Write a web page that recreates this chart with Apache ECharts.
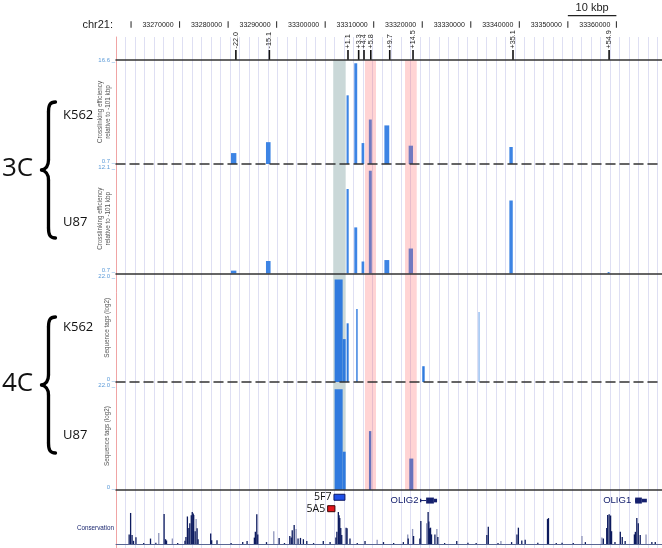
<!DOCTYPE html>
<html><head><meta charset="utf-8">
<script src="https://cdn.jsdelivr.net/npm/echarts@6/dist/echarts.min.js"></script>
<style>html,body{margin:0;padding:0;background:#fff}#c{width:662px;height:548px}</style>
</head><body><div id="c"></div>
<script>
// ---------- DATA (positions in kb relative to the anchor) ----------
const anchorBp = 33303600;
const rulerTicksBp = [33260000,33270000,33280000,33290000,33300000,33310000,33320000,33330000,33340000,33350000,33360000];
const rulerLabels = ['', '33270000','33280000','33290000','33300000','33310000','33320000','33330000','33340000','33350000','33360000'];
const scaleBarBp = [33350000, 33360000];
const scaleBarLabel = '10 kbp';
const distanceLabels = [-22.0, -15.1, 1.1, 3.3, 4.4, 5.8, 9.7, 14.5, 35.1, 54.9];
const fragStart = [-23.0, -15.8, 0.8, 2.4, 3.9, 5.4, 8.6, 13.6, 34.35, 54.6];
const fragEnd   = [-21.9, -14.85, 1.25, 3.0, 4.45, 6.0, 9.6, 14.5, 35.05, 55.0];
const k562_3C = [2.37, 4.04, 11.2, 16.1, 3.9, 7.5, 6.6, 3.5, 3.3, 0.7];
const u87_3C  = [1.0, 2.0, 9.5, 5.5, 1.95, 11.4, 2.1, 3.3, 8.3, 0.85];
const k562_4C = [[-1.65, 0, 20.8], [0, 0.62, 8.7], [0.82, 1.24, 11.9], [2.8, 3.09, 14.8], [16.4, 16.9, 3.2]];
const k562_4C_faint = [[27.96, 28.25, 14.2]];
const u87_4C = [[-1.65, 0, 20.5], [0, 0.62, 7.8], [5.42, 5.9, 12.0], [13.73, 14.56, 6.4]];
const anchorBand = [[-1.94, 0.62]];
const pinkBands = [[4.6, 6.87], [12.85, 15.26]];
const trackRanges = [[0.7, 16.6], [0.7, 12.1], [0, 22], [0, 22]];
const trackTickLabels = [['0.7', '16.6'], ['0.7', '12.1'], ['0', '22.0'], ['0', '22.0']];
const trackNames = ['Crosslinking efficiency\nrelative to -101 kbp', 'Crosslinking efficiency\nrelative to -101 kbp', 'Sequence tags (log2)', 'Sequence tags (log2)'];
const probeNames = ['5F7', '5A5'];
const probeStart = [-1.79, -3.09];
const probeEnd = [0.47, -1.59];
const geneNames = ['OLIG2', 'OLIG1'];
const geneTxStart = [15.94, 60.27];
const geneThickStart = [17.2, 60.27];
const geneThickEnd = [18.8, 61.65];
const geneTxEnd = [19.45, 62.68];
const consDark = [[-44.0,0.30],[-43.7,0.97],[-43.4,0.28],[-43.1,0.1],[-42.6,0.21],[-41.0,0.03],[-39.6,0.17],[-38.5,0.04],[-36.8,0.94],[-36.5,0.15],[-36.3,0.11],[-34.0,0.03],[-32.5,0.1],[-32.3,0.22],[-32.0,0.86],[-31.7,0.5],[-31.5,0.65],[-31.2,0.9],[-31.0,1.0],[-30.8,0.95],[-30.7,0.91],[-30.4,0.4],[-30.0,0.49],[-29.8,0.15],[-27.2,0.33],[-27.0,0.12],[-25.9,0.12],[-23.0,0.03],[-20.6,0.06],[-19.7,0.09],[-18.2,0.2],[-18.0,0.38],[-17.7,0.93],[-17.5,0.3],[-15.7,0.06],[-13.1,0.19],[-12.0,0.03],[-10.9,0.25],[-10.6,0.2],[-10.4,0.43],[-10.0,0.59],[-9.2,0.17],[-8.7,0.19],[-8.1,0.15],[-7.4,0.09],[-6.0,0.03],[-4.0,0.09],[-2.6,0.06],[-1.4,0.2],[-1.2,0.38],[-0.9,1.0],[-0.75,0.9],[-0.6,0.81],[-0.4,0.5],[-0.2,0.28],[0.7,0.51],[0.9,0.49],[1.5,0.17],[3.0,0.03],[4.6,0.09],[8.4,0.06],[10.5,0.03],[12.5,0.06],[13.5,0.17],[14.6,0.25],[15.9,0.17],[16.1,0.72],[17.6,1.0],[17.75,0.7],[17.9,0.49],[18.1,0.51],[18.3,0.3],[19.0,0.3],[19.6,0.22],[21.0,0.03],[23.5,0.09],[25.8,0.04],[27.5,0.03],[29.7,0.28],[30.0,0.54],[32.0,0.03],[34.8,0.06],[35.9,0.3],[36.2,0.51],[36.9,0.11],[37.6,0.13],[40.2,0.04],[42.2,0.78],[42.4,0.81],[44.0,0.03],[45.2,0.04],[47.5,0.03],[50.0,0.06],[53.7,0.17],[54.4,0.5],[54.6,0.91],[54.9,0.93],[55.2,0.89],[55.4,0.4],[56.1,0.06],[57.2,0.38],[57.6,0.22],[58.2,0.09],[60.1,0.3],[60.3,0.38],[60.6,0.81],[60.9,0.65],[61.3,0.28],[63.7,0.06],[64.4,0.06]];
const consLight = [[-37.9,0.34],[-35.1,0.17],[-30.2,0.78],[-14.2,0.40],[-9.6,0.47],[7.1,0.13],[13.4,0.30],[14.4,0.47],[17.3,0.65],[19.4,0.47],[32.6,0.09],[49.3,0.25],[53.4,0.2],[62.5,0.3]];

// ---------- LAYOUT / STYLE ----------
const xMin = -46.7, xMax = 65.8;
const L = 116;
const BLUE = '#3d84e4', LBL = '#5b9ad8', INK = '#222';
const SANS = '"Liberation Sans", Arial, sans-serif';
const toKb = bp => (bp - anchorBp) / 1000;

const gridBoxes = [
  {top: 37, bottom: 0},
  {top: 20, height: 10},
  {top: 30, height: 30},
  {top: 60, height: 104},
  {top: 164, height: 109.5},
  {top: 273.5, height: 108.5},
  {top: 382, height: 108},
  {top: 60, height: 430},
  {top: 490, height: 22},
  {top: 512, height: 32}
];
const grids = gridBoxes.map(g => Object.assign({left: L, right: 0, containLabel: false, outerBoundsMode: 'none'}, g));
const solidLine = {show: true, lineStyle: {color: '#333', width: 1.5}};
const dashLine = {show: true, lineStyle: {color: '#333', width: 1.5, type: [9, 5]}};
const xLines = [null, null, solidLine, dashLine, solidLine, dashLine, solidLine, null, null, {show: true, lineStyle: {color: '#5a6794', width: 1}}];

const xAxes = grids.map((g, i) => {
  if (i === 0) return {gridIndex: 0, type: 'value', min: 0, max: 57.5, interval: 1,
    axisLine: {show: false}, axisTick: {show: false}, axisLabel: {show: false},
    splitLine: {show: true, lineStyle: {color: '#dedff3', width: 1}}};
  return {gridIndex: i, type: 'value', min: xMin, max: xMax, z: 6,
    axisLine: xLines[i] || {show: false}, axisTick: {show: false}, axisLabel: {show: false}, splitLine: {show: false}};
});

const yAxes = [];
const plain = (gi, extra) => Object.assign({gridIndex: gi, type: 'value', min: 0, max: 1, position: 'left',
  axisLine: {show: false}, axisTick: {show: false}, axisLabel: {show: false}, splitLine: {show: false}}, extra || {});
yAxes.push(plain(0, {axisLine: {show: true, lineStyle: {color: '#f0a4a4', width: 1}}, z: 3}));
yAxes.push(plain(1, {name: 'chr21:', nameLocation: 'middle', nameRotate: 0, nameGap: 3, nameMoveOverlap: false,
  nameTextStyle: {fontSize: 11, fontFamily: SANS, color: INK, align: 'right'}}));
yAxes.push(plain(2));
const trackYIndex = [];
for (let t = 0; t < 4; t++) {
  const [mn, mx] = trackRanges[t];
  const labs = trackTickLabels[t];
  const common = {gridIndex: 3 + t, type: 'value', position: 'left', min: mn, max: mx, interval: mx - mn,
    axisLine: {show: false}, axisTick: {show: false}, splitLine: {show: false}};
  trackYIndex.push(yAxes.length);
  yAxes.push(Object.assign({}, common, {
    name: trackNames[t], nameLocation: 'middle', nameRotate: 90, nameGap: t < 2 ? 4 : 5, nameMoveOverlap: false,
    nameTextStyle: {fontSize: 6.3, lineHeight: 8, fontFamily: SANS, color: '#555'},
    axisLabel: {show: true, margin: 1, fontSize: 6, fontFamily: SANS, color: LBL,
      verticalAlign: t === 0 ? 'middle' : 'top',
      formatter: v => Math.abs(v - mx) < 0.01 ? labs[1] + ' _' : ''}
  }));
  yAxes.push(Object.assign({}, common, {
    axisLabel: {show: true, margin: 1, fontSize: 6, fontFamily: SANS, color: LBL, verticalAlign: 'bottom',
      formatter: v => Math.abs(v - mn) < 0.01 ? labs[0] + ' _' : ''}
  }));
}
const bandY = yAxes.length; yAxes.push(plain(7));
const geneY = yAxes.length; yAxes.push(plain(8, {inverse: true}));
const consY = yAxes.length; yAxes.push(plain(9, {name: 'Conservation', nameLocation: 'middle', nameRotate: 0, nameGap: 2, nameMoveOverlap: false,
  nameTextStyle: {fontSize: 6.3, fontFamily: SANS, color: '#1c2870', align: 'right'}}));

function rectBars(color) {
  return function (params, api) {
    const cs = params.coordSys;
    const a = api.coord([api.value(0), api.value(2)]);
    const b = api.coord([api.value(1), api.value(2)]);
    const bottom = cs.y + cs.height;
    return {type: 'rect', shape: {x: a[0], y: a[1], width: Math.max(b[0] - a[0], 1.2), height: bottom - a[1]},
      style: {fill: color}};
  };
}
const zip3 = (s, e, v) => s.map((x, i) => [x, e[i], v[i]]);

const series = [];
series.push({type: 'custom', xAxisIndex: 0, yAxisIndex: 0, data: [], renderItem: () => null});
series.push({type: 'custom', xAxisIndex: 1, yAxisIndex: 1, z: 5, data: rulerTicksBp.map(b => [toKb(b), 0.5]),
  renderItem(params, api) {
    const x = api.coord([api.value(0), 0.5])[0];
    const yc = params.coordSys.y + 4.5;
    const ch = [{type: 'rect', shape: {x: x - 0.5, y: yc - 3.3, width: 1, height: 6.6}, style: {fill: INK}}];
    const lab = rulerLabels[params.dataIndex];
    if (lab) ch.push({type: 'text', x: x - 6, y: yc + 0.5, style: {text: lab, align: 'right', verticalAlign: 'middle', fontSize: 7, fontFamily: SANS, fill: INK}});
    return {type: 'group', children: ch};
  }});
series.push({type: 'custom', xAxisIndex: 1, yAxisIndex: 1, z: 5, data: [[toKb(scaleBarBp[0]), toKb(scaleBarBp[1])]],
  renderItem(params, api) {
    const a = api.coord([api.value(0), 0.5])[0], b = api.coord([api.value(1), 0.5])[0];
    const y = params.coordSys.y - 4.3;
    return {type: 'group', children: [
      {type: 'line', shape: {x1: a, y1: y, x2: b, y2: y}, style: {stroke: INK, lineWidth: 1.2}},
      {type: 'text', x: (a + b) / 2, y: y - 7.5, style: {text: scaleBarLabel, align: 'center', verticalAlign: 'middle', fontSize: 11, fontFamily: SANS, fill: INK}}
    ]};
  }});
series.push({type: 'custom', xAxisIndex: 2, yAxisIndex: 2, z: 5, data: distanceLabels.map(d => [d, 0]),
  renderItem(params, api) {
    const d = api.value(0);
    const p = api.coord([d, 0]);
    const t = (d > 0 ? '+' : '') + d.toFixed(1);
    return {type: 'group', children: [
      {type: 'line', shape: {x1: p[0], y1: p[1], x2: p[0], y2: p[1] - 10}, style: {stroke: '#111', lineWidth: 1.6}},
      {type: 'text', x: p[0], y: p[1] - 11.5, rotation: Math.PI / 2,
        style: {text: t, align: 'left', verticalAlign: 'middle', fontSize: 7.2, fontFamily: SANS, fill: INK}}
    ]};
  }});
const bandRender = color => (params, api) => {
  const cs = params.coordSys;
  const a = api.coord([api.value(0), 1])[0], b = api.coord([api.value(1), 1])[0];
  return {type: 'rect', shape: {x: a, y: cs.y, width: b - a, height: cs.height}, style: {fill: color}};
};
series.push({type: 'custom', xAxisIndex: 7, yAxisIndex: bandY, z: 1, data: anchorBand, renderItem: bandRender('#cad8d8')});
series.push({type: 'custom', xAxisIndex: 7, yAxisIndex: bandY, z: 4, data: pinkBands, renderItem: bandRender('rgba(255,95,95,0.27)')});
series.push({type: 'custom', xAxisIndex: 3, yAxisIndex: trackYIndex[0], z: 3, data: zip3(fragStart, fragEnd, k562_3C), renderItem: rectBars(BLUE)});
series.push({type: 'custom', xAxisIndex: 4, yAxisIndex: trackYIndex[1], z: 3, data: zip3(fragStart, fragEnd, u87_3C), renderItem: rectBars(BLUE)});
series.push({type: 'custom', xAxisIndex: 5, yAxisIndex: trackYIndex[2], z: 3, data: k562_4C, renderItem: rectBars('#2f7ade')});
series.push({type: 'custom', xAxisIndex: 5, yAxisIndex: trackYIndex[2], z: 3, data: k562_4C_faint, renderItem: rectBars('#93bcf0')});
series.push({type: 'custom', xAxisIndex: 6, yAxisIndex: trackYIndex[3], z: 3, data: u87_4C, renderItem: rectBars('#2f7ade')});
const probeLane = [0.33, 0.85], probeFill = ['#1f4fe6', '#e3161c'], probeStroke = ['#0b1660', '#3a0606'];
series.push({type: 'custom', xAxisIndex: 8, yAxisIndex: geneY, z: 5,
  data: probeNames.map((n, i) => [probeStart[i], probeEnd[i], i]),
  renderItem(params, api) {
    const i = api.value(2);
    const a = api.coord([api.value(0), probeLane[i]]), b = api.coord([api.value(1), probeLane[i]]);
    return {type: 'group', children: [
      {type: 'rect', shape: {x: a[0], y: a[1] - 3, width: b[0] - a[0], height: 6}, style: {fill: probeFill[i], stroke: probeStroke[i], lineWidth: 1}},
      {type: 'text', x: a[0] - 2.5, y: a[1], style: {text: probeNames[i], align: 'right', verticalAlign: 'middle', fontSize: 10.5, fontFamily: '"Open Sans", sans-serif', fill: '#111'}}
    ]};
  }});
const NAVY = '#15206e';
series.push({type: 'custom', xAxisIndex: 8, yAxisIndex: geneY, z: 5,
  data: geneNames.map((n, i) => [geneTxStart[i], geneThickStart[i], geneThickEnd[i], geneTxEnd[i]]),
  renderItem(params, api) {
    const lane = 0.48;
    const s = api.coord([api.value(0), lane]), ts = api.coord([api.value(1), lane]);
    const te = api.coord([api.value(2), lane]), e = api.coord([api.value(3), lane]);
    const y = s[1];
    return {type: 'group', children: [
      {type: 'line', shape: {x1: s[0], y1: y, x2: ts[0], y2: y}, style: {stroke: NAVY, lineWidth: 1}},
      {type: 'rect', shape: {x: s[0], y: y - 1.8, width: 1.3, height: 3.6}, style: {fill: NAVY}},
      {type: 'rect', shape: {x: ts[0], y: y - 3, width: te[0] - ts[0], height: 6}, style: {fill: NAVY}},
      {type: 'rect', shape: {x: te[0], y: y - 1.8, width: e[0] - te[0], height: 3.6}, style: {fill: NAVY}},
      {type: 'text', x: s[0] - (params.dataIndex === 0 ? 1.5 : 4), y: y, style: {text: geneNames[params.dataIndex], align: 'right', verticalAlign: 'middle', fontSize: 9.5, fontFamily: SANS, fill: NAVY}}
    ]};
  }});
const consRender = color => (params, api) => {
  const cs = params.coordSys;
  const p = api.coord([api.value(0), api.value(1)]);
  const bottom = cs.y + cs.height;
  return {type: 'rect', shape: {x: p[0] - 0.6, y: p[1], width: 1.3, height: bottom - p[1]}, style: {fill: color}};
};
series.push({type: 'custom', xAxisIndex: 9, yAxisIndex: consY, z: 3, data: consLight, renderItem: consRender('#8e95bb')});
series.push({type: 'custom', xAxisIndex: 9, yAxisIndex: consY, z: 3, data: consDark, renderItem: consRender('#0c1a5e')});

// ---------- side labels & braces (decoration) ----------
function brace(top, bottom) {
  const m = (top + bottom) / 2, xs = 48.5, xt = 55.5, xp = 41.5;
  const st = {stroke: '#000', lineWidth: 3.3, fill: null, lineCap: 'round'};
  return [
    {type: 'bezierCurve', shape: {x1: xt, y1: top, cpx1: xs + 1.5, cpy1: top, cpx2: xs, cpy2: top + 3, x2: xs, y2: top + 10}, style: st},
    {type: 'line', shape: {x1: xs, y1: top + 10, x2: xs, y2: m - 10}, style: st},
    {type: 'bezierCurve', shape: {x1: xs, y1: m - 10, cpx1: xs, cpy1: m - 4, cpx2: xs - 2.5, cpy2: m - 1, x2: xp, y2: m}, style: st},
    {type: 'bezierCurve', shape: {x1: xp, y1: m, cpx1: xs - 2.5, cpy1: m + 1, cpx2: xs, cpy2: m + 4, x2: xs, y2: m + 10}, style: st},
    {type: 'line', shape: {x1: xs, y1: m + 10, x2: xs, y2: bottom - 10}, style: st},
    {type: 'bezierCurve', shape: {x1: xs, y1: bottom - 10, cpx1: xs, cpy1: bottom - 3, cpx2: xs + 1.5, cpy2: bottom, x2: xt, y2: bottom}, style: st}
  ];
}
const OS = '"Open Sans", "Noto Sans", sans-serif';
const txt = (text, x, y, size) => ({type: 'text', x, y, style: {text, fontSize: size, fontFamily: OS, fill: '#111', align: 'left', verticalAlign: 'middle'}});
const graphic = [].concat(brace(102, 238), brace(317, 453), [
  txt('3C', 2, 169, 26), txt('4C', 2, 384, 26),
  txt('K562', 63, 115, 13), txt('U87', 63, 222, 13),
  txt('K562', 63, 327, 13), txt('U87', 63, 435, 13)
]);

const chart = echarts.init(document.getElementById('c'), null, {renderer: 'canvas'});
chart.setOption({
  animation: false, backgroundColor: '#fff',
  grid: grids, xAxis: xAxes, yAxis: yAxes, series, graphic
});
</script></body></html>
